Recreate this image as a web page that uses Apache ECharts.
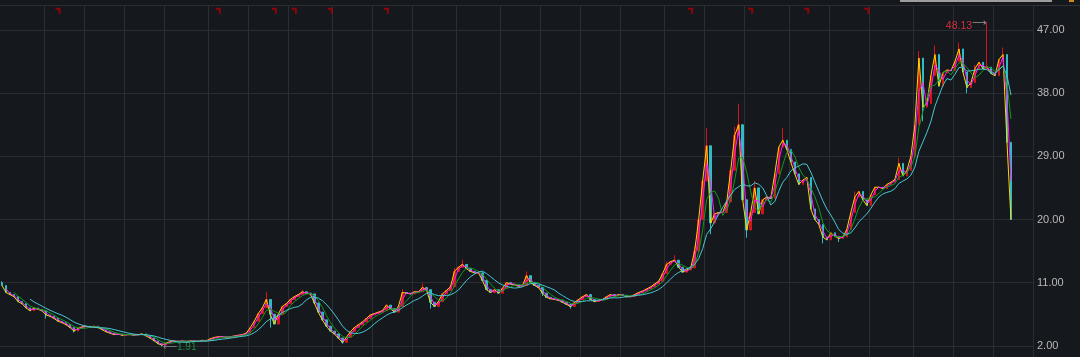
<!DOCTYPE html>
<html><head><meta charset="utf-8">
<script src="https://cdn.jsdelivr.net/npm/echarts@6/dist/echarts.min.js"></script>
<style>html,body{margin:0;padding:0;background:#15181d;overflow:hidden}#c{width:1080px;height:357px}</style>
</head><body><div id="c"></div>
<script>
// ---- data (one bar per ~4 px) ----
const closes = [
10.6,9.6,9.3,9.0,8.3,8.0,7.4,7.0,7.4,7.2,
7.0,6.4,6.2,5.9,5.5,5.3,5.0,4.6,4.1,4.5,
4.7,4.8,4.6,4.8,4.6,4.3,4.0,3.8,3.6,3.7,
3.5,3.6,3.6,3.5,3.6,3.7,3.4,3.1,2.7,2.3,
2.1,2.4,2.6,2.7,2.6,2.7,2.6,2.7,2.7,2.6,
2.8,2.7,3.0,3.2,3.3,3.3,3.2,3.3,3.4,3.5,
3.6,3.8,4.6,5.5,6.6,7.4,8.6,6.5,5.1,6.5,
7.6,8.0,8.6,9.0,9.3,9.7,9.5,9.4,8.1,6.8,
5.7,4.8,4.1,3.7,3.1,2.5,3.2,4.0,4.6,5.0,
5.4,5.9,6.4,6.6,6.8,7.0,7.8,7.3,6.8,7.6,
9.6,9.5,9.4,9.7,9.7,10.3,10.0,8.2,7.6,8.3,
9.4,9.9,10.4,12.6,13.2,13.6,13.0,12.6,12.4,12.4,
11.3,10.0,9.6,10.0,9.5,10.2,11.0,10.8,10.7,10.5,
10.6,12.0,11.0,10.6,10.3,9.5,8.9,8.7,8.6,8.5,
8.2,7.9,7.6,8.2,8.6,9.0,9.3,8.6,8.3,8.5,
8.6,9.0,9.3,9.1,9.3,9.2,9.0,9.0,9.3,9.6,
9.8,10.1,10.4,10.8,11.2,12.3,13.6,14.0,14.2,13.2,
12.5,12.8,13.1,15.5,20.0,25.5,30.5,19.5,20.8,21.0,
21.0,22.5,27.0,32.0,33.5,22.8,18.5,21.0,24.5,20.8,
22.8,23.2,23.0,26.5,30.3,31.3,30.0,28.2,26.5,25.0,
25.6,26.0,21.5,20.0,19.3,17.5,17.1,18.1,17.6,17.3,
17.5,18.6,21.0,23.2,24.0,22.8,22.0,23.5,24.6,24.6,
24.4,25.0,25.3,25.7,28.0,26.2,27.0,29.0,33.5,43.0,
36.0,36.5,40.5,43.5,39.0,40.9,41.3,41.2,42.5,44.3,
41.0,38.8,39.5,41.5,42.4,41.5,41.7,40.8,40.5,42.8,
43.5,31.0,20.0
];
const firstOpen = 11.0;
// wicks that stick out of the bodies: [barIndex, price]
const wickHighs = [[0,11.2],[11,7.1],[66,9.7],[75,10.0],[100,10.1],[105,10.9],[113,13.1],[115,14.3],[131,12.6],
  [166,14.0],[168,14.9],[173,16.2],[176,33.0],[183,33.2],[184,36.5],[188,25.5],[195,33.0],[213,24.0],[224,28.8],
  [229,44.0],[233,44.8],[239,45.2],[243,42.0],[246,48.13],[250,44.5]];
const wickLows = [[11,5.9],[18,3.9],[40,1.91],[67,4.6],[85,2.3],[107,7.3],[135,9.1],[142,7.3],[177,17.9],
  [186,17.4],[205,16.6],[209,16.8],[230,34.0],[241,38.0],[252,19.95]];
const emptySlots = 5;               // blank space right of the last bar
const eventBars = [14,54,68,73,82,96,172,187,201,216];   // red flags along the top
const gridBars = [11,21,31,41,52,62,72,83,93,103,114,125,135,145,155,166,176,186,197,207,217,228,238,248];
const yTicks = [2, 11, 20, 29, 38, 47];
const maPeriods = {yellow:1, magenta:2, green:4, cyan:8};

// ---- build ----
const N = closes.length + emptySlots;
const categories = Array.from({length:N}, (_, i) => String(i));
const hiMap = new Map(wickHighs), loMap = new Map(wickLows);
const candles = closes.map((c, i) => {
  const o = i === 0 ? firstOpen : closes[i-1];
  const l = loMap.has(i) ? loMap.get(i) : Math.min(o, c);
  const h = hiMap.has(i) ? hiMap.get(i) : Math.max(o, c);
  return [o, c, l, h];
});
function ma(n){
  return closes.map((_, i) => {
    if (i < n-1) return '-';
    let s = 0; for (let k = i-n+1; k <= i; k++) s += closes[k];
    return +(s/n).toFixed(3);
  });
}
const yStep = yTicks[1] - yTicks[0];
const yMin = yTicks[0] - yStep;
const yMax = 50.56;
const flagLevel = 49.75;
const FONT = 'Liberation Sans, DejaVu Sans, sans-serif';

const chart = echarts.init(document.getElementById('c'), null, {renderer:'canvas'});
chart.setOption({
  backgroundColor: '#15181d',
  animation: false,
  grid: {left: 0, right: 47, top: 5, height: 404, outerBoundsMode: 'none', containLabel: false},
  xAxis: {
    type: 'category', data: categories, boundaryGap: true,
    axisLine: {show:false}, axisTick: {show:false}, axisLabel: {show:false},
    splitLine: {show: true, interval: (idx) => gridBars.includes(idx), lineStyle: {color:'#2a2d32', width:1}}
  },
  yAxis: {
    type: 'value', position: 'right', min: yMin, max: yMax, interval: yStep, scale: true,
    axisLine: {show: true, lineStyle: {color:'#2a2d32'}},
    axisTick: {show:false},
    axisLabel: {color:'#b9b9b9', fontSize: 11, fontFamily: FONT, margin: 4,
      formatter: v => yTicks.includes(Math.round(v*100)/100) ? v.toFixed(2) : ''},
    splitLine: {show: true, lineStyle: {color:'#2a2d32', width:1}}
  },
  graphic: [
    {type:'line', shape:{x1:0, y1:5.5, x2:1080, y2:5.5}, style:{stroke:'#303338', lineWidth:1}, silent:true},
    {type:'rect', shape:{x:900, y:0, width:152, height:2}, style:{fill:'#9c9c9c'}, silent:true},
    {type:'rect', shape:{x:1069, y:0, width:5, height:2}, style:{fill:'#d08a1a'}, silent:true}
  ],
  series: [
    {
      type: 'candlestick', data: candles, barWidth: 2, clip: false,
      itemStyle: {color:'#d41515', color0:'#2fbcc6', borderColor:'#d41515', borderColor0:'#2fbcc6', borderWidth:1},
      markPoint: {
        symbol: 'circle', symbolSize: 1, itemStyle: {color:'rgba(0,0,0,0)'},
        data: [
          {type:'max', valueDim:'highest',
           label:{show:true, position:'left', distance:0, offset:[0,4],
             formatter: p => '{v|' + p.value.toFixed(2) + '}{a|⟶}',
             rich:{v:{color:'#d3303a', fontSize:10.5, fontFamily:FONT}, a:{color:'#9a9a9a', fontSize:10, fontFamily:'DejaVu Sans', padding:[0,0,5,0]}}}},
          {type:'min', valueDim:'lowest',
           label:{show:true, position:'right', distance:0, offset:[0,1],
             formatter: p => '{a|⟵}{v|' + p.value.toFixed(2) + '}',
             rich:{v:{color:'#1f8f3e', fontSize:10, fontFamily:FONT}, a:{color:'#8a8a8a', fontSize:10, fontFamily:'DejaVu Sans'}}}}
        ]
      }
    },
    {type:'line', data: ma(maPeriods.yellow), showSymbol:false, lineStyle:{color:'#ffd800', width:1}, z:3},
    {type:'line', data: ma(maPeriods.magenta), showSymbol:false, lineStyle:{color:'#ff1cff', width:1}, z:3},
    {type:'line', data: ma(maPeriods.green), showSymbol:false, lineStyle:{color:'#109a1c', width:1}, z:4},
    {type:'line', data: ma(maPeriods.cyan), showSymbol:false, lineStyle:{color:'#47c8d2', width:1}, z:5},
    {type:'scatter', data: eventBars.map(i => [i, flagLevel]), symbol:'path://M0,0L5,0L5,6L3,6L3,2L0,2Z',
     symbolSize:[5,6], itemStyle:{color:'#b00000'}, silent:true, z:6}
  ]
});
</script></body></html>
